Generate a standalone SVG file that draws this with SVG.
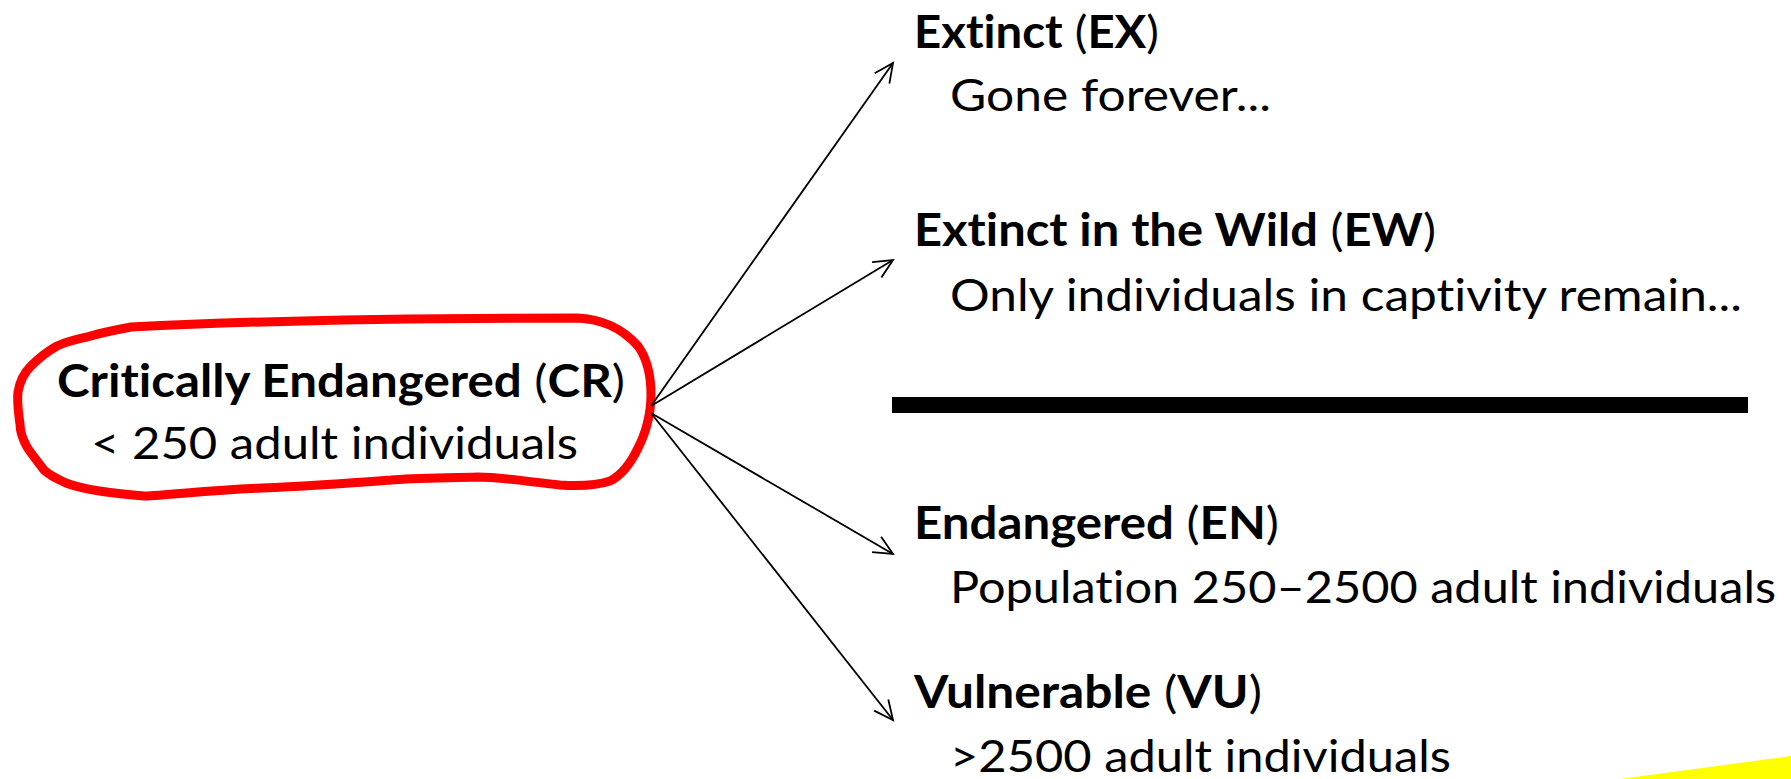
<svg xmlns="http://www.w3.org/2000/svg" width="1791" height="779" viewBox="0 0 1791 779">
<style>
text{font-family:Lato,"Open Sans","Liberation Sans",sans-serif;font-size:45px;fill:#000;font-variant-ligatures:none;font-feature-settings:"liga" 0,"dlig" 0}
.b{font-weight:bold}
.conn line{stroke:#000;stroke-width:1.8;fill:none}
</style>
<defs>
<marker id="arr" markerUnits="userSpaceOnUse" markerWidth="30" markerHeight="30" viewBox="-25 -15 30 30" refX="0" refY="0" orient="auto">
<path d="M-19,-9 L0,0 L-19,9" fill="none" stroke="#000" stroke-width="1.8"/>
</marker>
</defs>
<rect width="1791" height="779" fill="#fff"/>
<polygon points="1620,779 1791,756 1791,779" fill="#ffff00"/>
<g id="node-cr">
<path d="M131,327 C250,321 420,318 577,318 C600,319 620,326 638,346 C648,360 651,378 651,395 C651,415 645,435 638,448 C630,465 622,475 610,481 C595,486 575,486 560,485 C530,482 500,477 478,477 C440,478 410,478 391,480 C340,484 290,487 262,488 C210,490 170,495 144,496 C110,493 85,490 66,483 C55,478 48,474 44,470 C35,458 30,452 27,447 C22,438 20,432 20,424 C18,410 17,400 18,392 C20,380 25,372 31,366 C40,357 48,351 57,346 C68,341 78,339 87,337 C100,333 115,330 131,327 Z" fill="none" stroke="#ff0000" stroke-width="9" stroke-linejoin="round"/>
<text x="57" y="397" textLength="568" lengthAdjust="spacingAndGlyphs"><tspan class="b">Critically Endangered</tspan> (<tspan class="b">CR</tspan>)</text>
<text x="91" y="459" textLength="487" lengthAdjust="spacingAndGlyphs">&lt; 250 adult individuals</text>
</g>
<g id="node-ex">
<text x="914" y="48" textLength="245" lengthAdjust="spacingAndGlyphs"><tspan class="b">Extinct</tspan> (<tspan class="b">EX</tspan>)</text>
<text x="950" y="111" textLength="321" lengthAdjust="spacingAndGlyphs">Gone forever...</text>
</g>
<g id="node-ew">
<text x="914" y="246" textLength="522" lengthAdjust="spacingAndGlyphs"><tspan class="b">Extinct in the Wild</tspan> (<tspan class="b">EW</tspan>)</text>
<text x="950" y="311" textLength="792" lengthAdjust="spacingAndGlyphs">Only individuals in captivity remain...</text>
</g>
<g id="divider">
<rect x="892" y="397" width="856" height="16" fill="#000"/>
</g>
<g id="node-en">
<text x="914" y="539" textLength="365" lengthAdjust="spacingAndGlyphs"><tspan class="b">Endangered</tspan> (<tspan class="b">EN</tspan>)</text>
<text x="950" y="603" textLength="826" lengthAdjust="spacingAndGlyphs">Population 250–2500 adult individuals</text>
</g>
<g id="node-vu">
<text x="914" y="708" textLength="348" lengthAdjust="spacingAndGlyphs"><tspan class="b">Vulnerable</tspan> (<tspan class="b">VU</tspan>)</text>
<text x="950" y="772" textLength="501" lengthAdjust="spacingAndGlyphs">&gt;2500 adult individuals</text>
</g>
<g id="connectors" class="conn">
<line x1="651" y1="406" x2="893" y2="63" marker-end="url(#arr)"/>
<line x1="651" y1="406" x2="893" y2="260" marker-end="url(#arr)"/>
<line x1="651" y1="413" x2="893" y2="554" marker-end="url(#arr)"/>
<line x1="651" y1="413" x2="893" y2="720" marker-end="url(#arr)"/>
</g>
</svg>
